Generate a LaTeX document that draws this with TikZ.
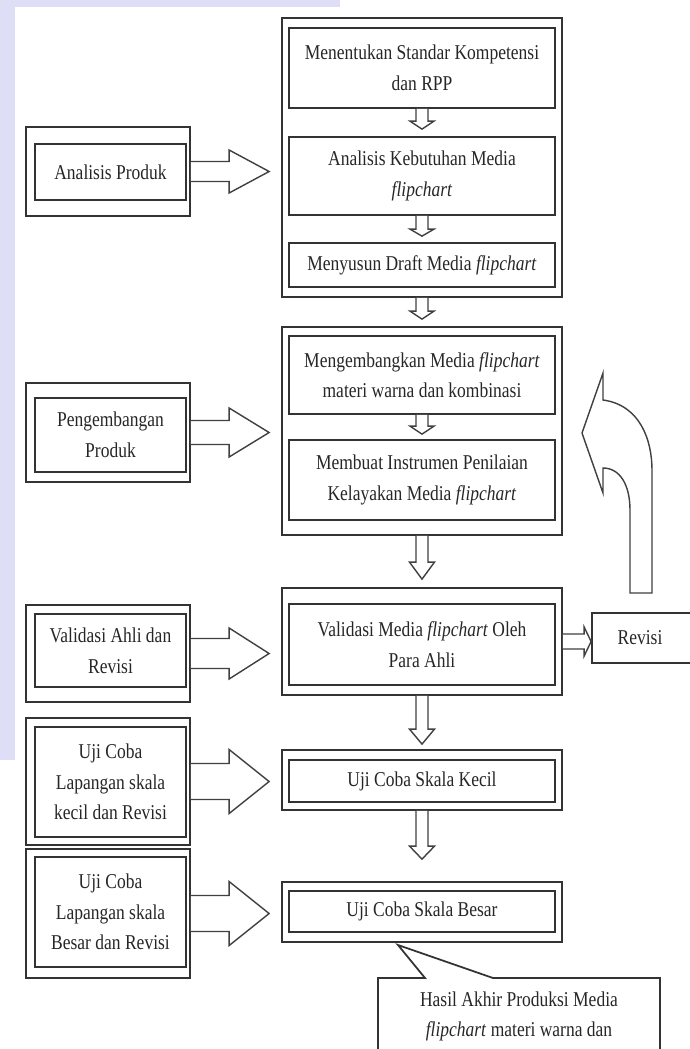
\documentclass[tikz,border=0pt]{standalone}
\usepackage{fontspec}
\setmainfont[FakeStretch=0.83]{Liberation Serif}
\usetikzlibrary{fit,calc}

\definecolor{wmark}{RGB}{222,222,246}
\newcommand{\px}{0.02cm}

% block arrow to the right: from, to, gap, shaft half, head half, head length
\newcommand{\harrow}[6]{%
\draw[blockarrow] let \p1=(#1), \p2=(#2) in
  (\x1,\y1+#4*\px) -- (\x2-#3*\px-#6*\px,\y1+#4*\px) -- (\x2-#3*\px-#6*\px,\y1+#5*\px)
  -- (\x2-#3*\px,\y1) -- (\x2-#3*\px-#6*\px,\y1-#5*\px) -- (\x2-#3*\px-#6*\px,\y1-#4*\px)
  -- (\x1,\y1-#4*\px);}
% block arrow downwards: from, to, gap, shaft half, head half, head length
\newcommand{\varrow}[6]{%
\draw[blockarrow] let \p1=(#1), \p2=(#2) in
  (\x1-#4*\px,\y1) -- (\x1-#4*\px,\y2+#3*\px+#6*\px) -- (\x1-#5*\px,\y2+#3*\px+#6*\px)
  -- (\x1,\y2+#3*\px) -- (\x1+#5*\px,\y2+#3*\px+#6*\px) -- (\x1+#4*\px,\y2+#3*\px+#6*\px)
  -- (\x1+#4*\px,\y1);}

\tikzset{
  frame/.style={draw=black!80, line width=1pt, inner sep=0pt},
  inbox/.style={draw=black!80, line width=1pt, inner sep=0pt},
  txt/.style={align=center, text=black!85, inner sep=0pt},
}

\tikzset{blockarrow/.style={draw=black!75, line width=0.8pt, fill=white, line join=miter}}

\begin{document}
\begin{tikzpicture}[x=0.02cm, y=-0.02cm, font=\fontsize{12}{17.4}\selectfont]
\useasboundingbox (0,0) rectangle (690,1049);
\fill[wmark] (0,0) rectangle (15,760);
\fill[wmark] (0,0) rectangle (340,7);

% left column
\node[frame, fit={(26,127) (190,216)}] (lp1) {};
\node[inbox, fit={(35,144) (186,200)}, label={[txt]center:Analisis Produk}] (a1) {};
\node[frame, fit={(26,383) (190,482)}] (lp2) {};
\node[inbox, fit={(35,398) (186,472)}, label={[txt]center:Pengembangan\\Produk}] (a2) {};
\node[frame, fit={(26,605) (190,702)}] (lp3) {};
\node[inbox, fit={(35,614) (186,687)}, label={[txt]center:Validasi Ahli dan\\Revisi}] (a3) {};
\node[frame, fit={(26,718) (190,845)}] (lp4) {};
\node[inbox, fit={(35,727) (186,837)}, label={[txt]center:Uji Coba\\Lapangan skala\\kecil dan Revisi}] (a4) {};
\node[frame, fit={(26,849) (190,978)}] (lp5) {};
\node[inbox, fit={(35,857) (186,967)}, label={[txt]center:Uji Coba\\Lapangan skala\\Besar dan Revisi}] (a5) {};

% right column
\node[frame, fit={(282,18) (562,297)}] (g1) {};
\node[inbox, fit={(289,28) (555,108)}, label={[txt]center:Menentukan Standar Kompetensi\\dan RPP}] (s1) {};
\node[inbox, fit={(289,137) (555,215)}, label={[txt]center:Analisis Kebutuhan Media\\\textit{flipchart}}] (s2) {};
\node[inbox, fit={(289,243) (555,287)}, label={[txt]center:Menyusun Draft Media \textit{flipchart}}] (s3) {};
\node[frame, fit={(282,327) (562,535)}] (g2) {};
\node[inbox, fit={(289,336) (555,414)}, label={[txt]center:Mengembangkan Media \textit{flipchart}\\materi warna dan kombinasi}] (s4) {};
\node[inbox, fit={(289,440) (555,520)}, label={[txt]center:Membuat Instrumen Penilaian\\Kelayakan Media \textit{flipchart}}] (s5) {};
\node[frame, fit={(282,588) (562,695)}] (g3) {};
\node[inbox, fit={(289,604) (555,685)}, label={[txt]center:Validasi Media \textit{flipchart} Oleh\\Para Ahli}] (s6) {};
\node[frame, fit={(282,750) (562,810)}] (g4) {};
\node[inbox, fit={(289,760) (555,802)}, label={[txt]center:Uji Coba Skala Kecil}] (s7) {};
\node[frame, fit={(282,882) (562,942)}] (g5) {};
\node[inbox, fit={(289,891) (555,932)}, label={[txt]center:Uji Coba Skala Besar}] (s8) {};
\node[inbox, fit={(592,613) (692,663)}, label={[txt, xshift=-0.04cm]center:Revisi}] (rev) {};

% arrows
\harrow{lp1.east}{g1.west}{12}{10}{21.5}{40}
\harrow{lp2.east}{g2.west}{12}{12}{24.5}{40}
\harrow{lp3.east}{g3.west}{12}{15}{25.5}{40}
\harrow{lp4.east}{g4.west}{12}{18}{32}{40}
\harrow{lp5.east}{g5.west}{12}{18}{32}{40}
\harrow{g3.east}{rev.west}{0}{7.5}{14.5}{7}
\varrow{s1.south}{s2.north}{7}{6}{12}{8}
\varrow{s2.south}{s3.north}{6}{6}{12}{7}
\varrow{g1.south}{g2.north}{7}{6}{12}{8}
\varrow{s4.south}{s5.north}{5}{6}{12}{8}
\varrow{g2.south}{g3.north}{8}{6}{12.5}{17}
\varrow{g3.south}{g4.north}{5}{6}{12.5}{15}
\varrow{g4.south}{g5.north}{22}{6}{12.5}{13}

% curved arrow back from Revisi
\draw[blockarrow] (630,593) -- (652,593) -- (652,470)
  .. controls (652,440) and (640,405) .. (603,400) -- (603,373) -- (582,433)
  -- (603,493) -- (603,468) .. controls (620,468) and (630,485) .. (630,510) -- cycle;

% callout
\draw[frame] (378,978) -- (425,978) -- (398,945) -- (493,978) -- (660,978)
  -- (660,1110) -- (378,1110) -- cycle;
\node[txt] (hasil) at (519,1016.5)
  {Hasil Akhir Produksi Media\\\textit{flipchart} materi warna dan};
\end{tikzpicture}
\end{document}
